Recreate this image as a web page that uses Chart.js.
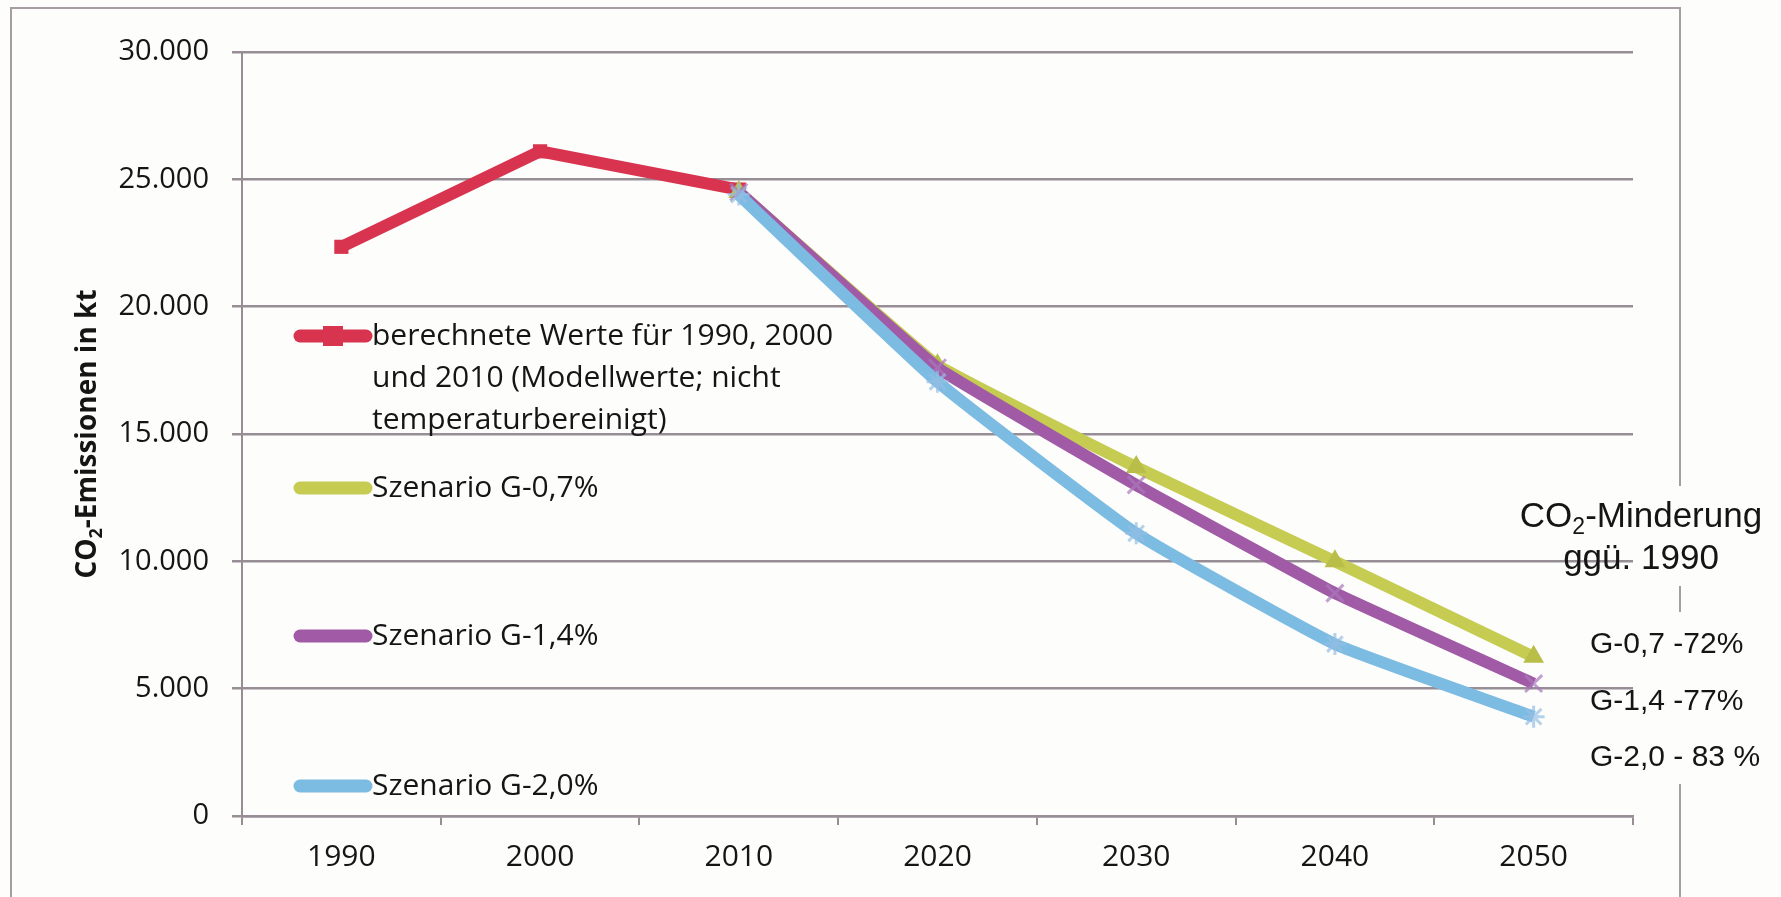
<!DOCTYPE html>
<html>
<head>
<meta charset="utf-8">
<script src="https://cdn.jsdelivr.net/npm/chart.js@4/dist/chart.umd.min.js"></script>
<style>
  html, body { margin: 0; padding: 0; background: #fdfdfb; }
  #wrap { width: 1781px; height: 897px; }
</style>
</head>
<body>
<div id="wrap"><canvas id="co2Chart" width="1781" height="897"></canvas></div>
<script>
// Daten
const years = ["1990", "2000", "2010", "2020", "2030", "2040", "2050"];
const berechnet = [22350, 26100, 24600, null, null, null, null];
const szenarioG07 = [null, null, 24500, 17700, 13700, 10000, 6250];
const szenarioG14 = [null, null, 24500, 17600, 13000, 8750, 5200];
const szenarioG20 = [null, null, 24400, 17050, 11100, 6750, 3900];
const yMax = 30000;
const yStep = 5000;
const minderungTitle = ["Minderung", "ggü. 1990"];
const minderungLabels = ["G-0,7 -72%", "G-1,4 -77%", "G-2,0 - 83 %"];

const legendLabels = [
  ["berechnete Werte für 1990, 2000", "und 2010 (Modellwerte; nicht", "temperaturbereinigt)"],
  ["Szenario G-0,7%"],
  ["Szenario G-1,4%"],
  ["Szenario G-2,0%"]
];

const fmt = v => String(v).replace(/\B(?=(\d{3})+(?!\d))/g, ".");

const gridColor = "#978d95";

// Hintergrund, Rahmen, Legende, Beschriftungen
const decor = {
  id: "decor",
  beforeDraw(chart) {
    const c = chart.ctx;
    c.save();
    c.fillStyle = "#fdfdfb";
    c.fillRect(0, 0, chart.width, chart.height);
    c.strokeStyle = "#a59ca4";
    c.lineWidth = 2;
    c.beginPath();
    c.moveTo(11, chart.height);
    c.lineTo(11, 8);
    c.lineTo(1680, 8);
    c.lineTo(1680, chart.height);
    c.stroke();
    // Textfeld rechts verdeckt den Rahmen
    c.fillStyle = "#fdfdfb";
    c.fillRect(1660, 486, 40, 100);
    c.fillRect(1660, 612, 40, 172);
    c.restore();
  },
  afterDraw(chart) {
    const c = chart.ctx;
    c.save();
    c.fillStyle = "#151515";
    c.textBaseline = "middle";

    // y-Achsentitel
    c.save();
    c.translate(88, 434);
    c.rotate(-Math.PI / 2);
    const big = "bold 28px 'Open Sans'";
    const small = "bold 18px 'Open Sans'";
    c.font = big;
    const wCO = c.measureText("CO").width;
    const wRest = c.measureText("-Emissionen in kt").width;
    c.font = small;
    const w2 = c.measureText("2").width;
    let x = -(wCO + w2 + wRest) / 2;
    c.font = big;
    c.textAlign = "left";
    c.fillText("CO", x, 0);
    c.font = small;
    c.fillText("2", x + wCO, 9);
    c.font = big;
    c.fillText("-Emissionen in kt", x + wCO + w2, 0);
    c.restore();

    // Minderung rechts
    const fBig = "35px 'Liberation Sans'";
    const fSub = "23px 'Liberation Sans'";
    c.font = fBig;
    const t1a = c.measureText("CO").width;
    const t1b = c.measureText("-" + minderungTitle[0]).width;
    c.font = fSub;
    const t12 = c.measureText("2").width;
    let tx = 1641 - (t1a + t12 + t1b) / 2;
    c.textAlign = "left";
    c.font = fBig;
    c.fillText("CO", tx, 517);
    c.font = fSub;
    c.fillText("2", tx + t1a, 528);
    c.font = fBig;
    c.fillText("-" + minderungTitle[0], tx + t1a + t12, 517);
    c.textAlign = "center";
    c.fillText(minderungTitle[1], 1641, 559);
    c.textAlign = "left";
    c.font = "30px 'Liberation Sans'";
    const ly = [645, 702, 758];
    minderungLabels.forEach((t, i) => c.fillText(t, 1590, ly[i]));

    // Legende
    const rows = [336, 488, 636, 786];
    c.font = "30px 'Open Sans'";
    chart.data.datasets.forEach((ds, i) => {
      const y = rows[i];
      c.strokeStyle = ds.borderColor;
      c.lineWidth = 13;
      c.lineCap = "round";
      c.beginPath();
      c.moveTo(300, y);
      c.lineTo(366, y);
      c.stroke();
      c.fillStyle = ds.borderColor;
      if (i === 0) c.fillRect(323, y - 10, 20, 20);
      c.fillStyle = "#151515";
      legendLabels[i].forEach((line, k) => c.fillText(line, 372, y + k * 42));
    });
    c.restore();
  }
};

new Chart(document.getElementById("co2Chart"), {
  type: "line",
  data: {
    labels: years,
    datasets: [
      {
        label: legendLabels[0].join(" "),
        data: berechnet,
        borderColor: "#d8334f",
        backgroundColor: "#d8334f",
        borderWidth: 12,
        pointStyle: "rect",
        pointRadius: 10,
        pointBorderWidth: 0,
        tension: 0,
        order: 4
      },
      {
        label: legendLabels[1][0],
        data: szenarioG07,
        borderColor: "#c6cb52",
        backgroundColor: "#b8be48",
        borderWidth: 12,
        pointStyle: "triangle",
        pointRadius: 12,
        pointBorderWidth: 0,
        tension: 0.08,
        order: 3
      },
      {
        label: legendLabels[2][0],
        data: szenarioG14,
        borderColor: "#a15ba6",
        backgroundColor: "#b77fc0",
        borderWidth: 12,
        pointStyle: "crossRot",
        pointRadius: 12,
        pointBorderWidth: 3,
        pointBorderColor: "rgba(170,120,190,0.7)",
        tension: 0.08,
        order: 2
      },
      {
        label: legendLabels[3][0],
        data: szenarioG20,
        borderColor: "#7cbbe2",
        backgroundColor: "#9ccbea",
        borderWidth: 12,
        pointStyle: "star",
        pointRadius: 11,
        pointBorderWidth: 3,
        pointBorderColor: "rgba(150,190,230,0.7)",
        tension: 0.12,
        order: 1
      }
    ]
  },
  options: {
    responsive: false,
    animation: false,
    layout: { padding: { top: 52, right: 148, left: 0, bottom: 0 } },
    plugins: {
      legend: { display: false },
      tooltip: { enabled: false }
    },
    scales: {
      x: {
        offset: true,
        grid: {
          display: true,
          offset: true,
          drawOnChartArea: false,
          color: gridColor,
          lineWidth: 2,
          tickLength: 9
        },
        border: { color: gridColor, width: 2.5 },
        ticks: {
          color: "#151515",
          font: { family: "'Open Sans'", size: 30 },
          padding: 14
        },
        afterFit(scale) { scale.height = 81; }
      },
      y: {
        min: 0,
        max: yMax,
        ticks: {
          stepSize: yStep,
          color: "#151515",
          font: { family: "'Open Sans'", size: 29 },
          padding: 23,
          callback: v => fmt(v)
        },
        grid: {
          color: gridColor,
          lineWidth: 2.5,
          tickLength: 10
        },
        border: { color: gridColor, width: 2 },
        afterFit(scale) { scale.width = 242; }
      }
    }
  },
  plugins: [decor]
});
</script>
</body>
</html>
